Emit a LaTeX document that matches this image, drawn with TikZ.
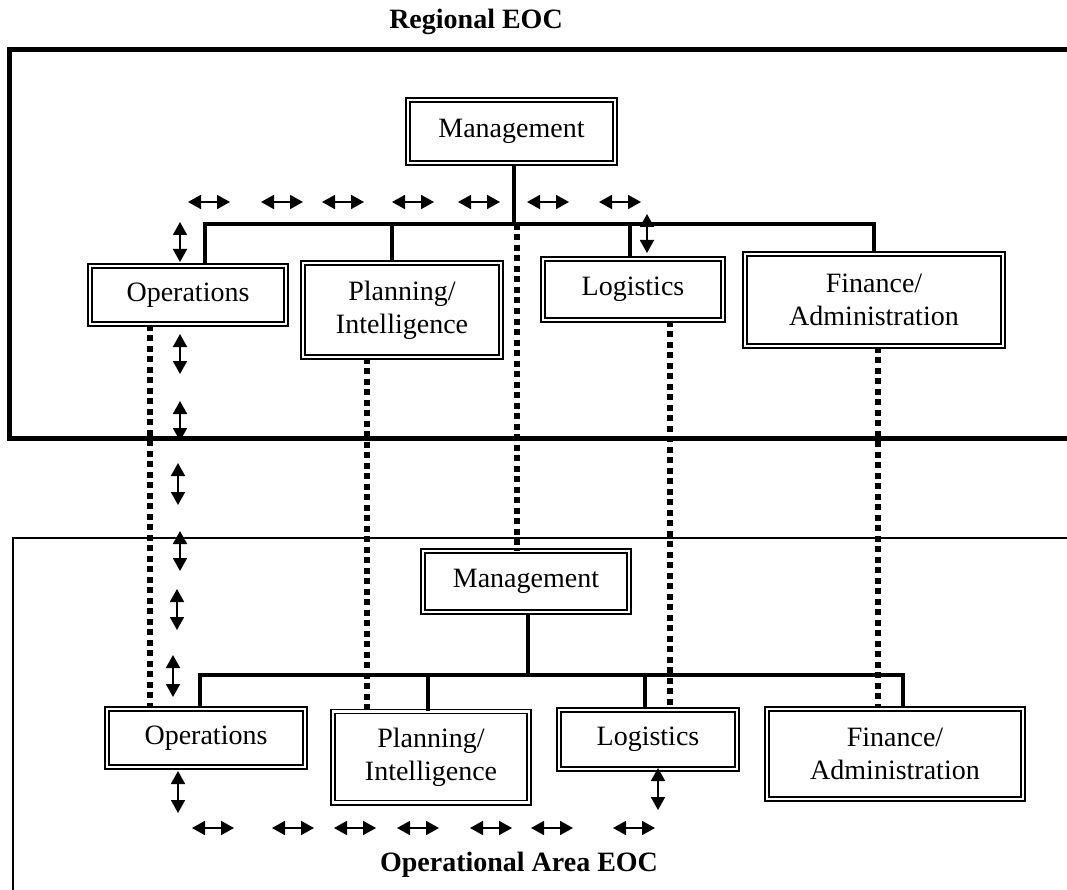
\documentclass[tikz,border=0pt]{standalone}
\usepackage{fontspec}
\setmainfont{Liberation Serif}
\usetikzlibrary{arrows.meta}
\tikzset{
  unitbox/.style 2 args={draw, double, line width=1.7pt, double distance=2.4pt,
    inner sep=0pt, align=center, minimum width=#1-5.8pt, minimum height=#2-5.8pt,
    font=\fontsize{28}{33}\selectfont},
  bus/.style={line width=3.8pt},
  dotline/.style={line width=6pt, dash pattern=on 6pt off 4.5pt},
  darr/.style={{Triangle[width=14pt,length=13pt]}-{Triangle[width=14pt,length=13pt]}, line width=1.8pt},
  title/.style={font=\fontsize{28}{33}\selectfont\bfseries},
}
\begin{document}
\begin{tikzpicture}[x=1pt,y=-1pt]
\useasboundingbox (0,0) rectangle (1067,890);
% frames
\draw[line width=5pt] (1070,50) -- (9,50) -- (9,438) -- (1070,438);
\draw[line width=1.6pt] (1070,538) -- (13,538) -- (13,893);
\node[title] (tR) at (476,22) {Regional EOC};
\node[title] (tA) at (519,865) {Operational Area EOC};
% Regional boxes
\node[unitbox={213pt}{69pt}] (mgmtR) at (511.5,131.5) {Management};
\node[unitbox={202pt}{64pt}] (opsR) at (188,295) {Operations};
\node[unitbox={204pt}{100pt}] (planR) at (402,310) {Planning/\\Intelligence};
\node[unitbox={186pt}{67pt}] (logR) at (633,289.5) {Logistics};
\node[unitbox={264pt}{98pt}] (finR) at (874,300) {Finance/\\Administration};
% Area boxes
\node[unitbox={212pt}{67pt}] (mgmtA) at (526,581.5) {Management};
\node[unitbox={204pt}{64pt}] (opsA) at (206,738) {Operations};
\node[unitbox={202pt}{97pt}] (planA) at (431,757) {Planning/\\Intelligence};
\node[unitbox={184pt}{65pt}] (logA) at (648,739.5) {Logistics};
\node[unitbox={262pt}{96pt}] (finA) at (895,754) {Finance/\\Administration};
% buses
\coordinate (bR) at (0,224);
\coordinate (bA) at (0,675);
\draw[bus] ([xshift=2.5pt]mgmtR.south) -- ([xshift=2.5pt]mgmtR.south |- bR);
\draw[bus] ([xshift=17pt]opsR.north) -- ([xshift=17pt]opsR.north |- bR) -- (finR.north |- bR) -- (finR.north);
\draw[bus] ([xshift=-10pt]planR.north) -- ([xshift=-10pt]planR.north |- bR);
\draw[bus] ([xshift=-3pt]logR.north) -- ([xshift=-3pt]logR.north |- bR);
\draw[bus] ([xshift=2pt]mgmtA.south) -- ([xshift=2pt]mgmtA.south |- bA);
\draw[bus] ([xshift=-6pt]opsA.north) -- ([xshift=-6pt]opsA.north |- bA) -- ([xshift=8pt]finA.north |- bA) -- ([xshift=8pt]finA.north);
\draw[bus] ([xshift=-3pt]planA.north) -- ([xshift=-3pt]planA.north |- bA);
\draw[bus] ([xshift=-3pt]logA.north) -- ([xshift=-3pt]logA.north |- bA);
% dotted links
\draw[dotline] ([xshift=5.5pt]mgmtR.south |- bR) -- ([xshift=5.5pt]mgmtR.south |- mgmtA.north);
\draw[dotline] ([xshift=-38pt]opsR.south) -- ([xshift=-38pt]opsR.south |- opsA.north);
\draw[dotline] ([xshift=-35pt]planR.south) -- ([xshift=-35pt]planR.south |- planA.north);
\draw[dotline] ([xshift=37pt]logR.south) -- ([xshift=37pt]logR.south |- logA.north);
\draw[dotline] ([xshift=4pt]finR.south) -- ([xshift=4pt]finR.south |- finA.north);
% horizontal double arrows
\foreach \cx in {209,282,343,413,479,548,620}
  \draw[darr] (\cx-21,202) -- (\cx+21,202);
\foreach \cx in {213,293,355,418,491,552,634}
  \draw[darr] (\cx-21,828) -- (\cx+21,828);
% vertical double arrows
\foreach \vx/\ya/\yb in {180/222/262, 180/334/374, 180/401/441, 178/463/505, 180/531/571, 177/589/630, 173/655/697, 647/214/253, 178/771/813, 658/768/810}
  \draw[darr] (\vx,\ya) -- (\vx,\yb);
\end{tikzpicture}
\end{document}
